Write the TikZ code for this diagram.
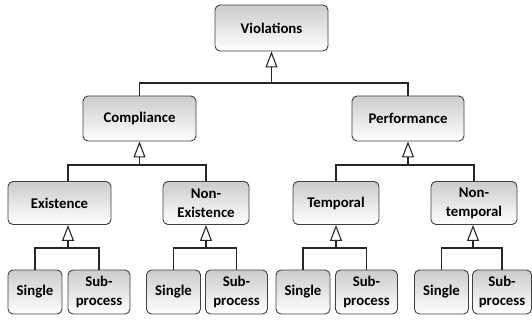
\documentclass[tikz,border=0pt]{standalone}
\usepackage{fontspec}
\setmainfont{Carlito}
\usetikzlibrary{arrows.meta}

\begin{document}
\begin{tikzpicture}[x=1pt, y=-1pt,
  box/.style={draw=black!75, line width=0.9pt, rounded corners=5pt,
    top color=black!20, bottom color=white, align=center, inner sep=0pt,
    font=\fontsize{14.8}{19}\selectfont\bfseries},
  single/.style={box, minimum width=54pt, minimum height=44pt},
  subproc/.style={box, minimum width=62pt, minimum height=44pt},
  link/.style={draw=black!85, line width=1.1pt},
  isa/.style={link, -{Triangle[open, length=16pt, width=12pt]}}]

\useasboundingbox (0,0) rectangle (532,320);

\def\ya{28}; % root
\def\yb{118.5}; % compliance / performance
\def\yc{203}; % kinds
\def\yd{292}; % leaves

\def\hab{83}; % bars
\def\hbc{165};
\def\hcd{248};

\node[box, minimum width=113pt, minimum height=46pt] (viol) at (271.5, \ya) {Violations};

\node[box, minimum width=113pt, minimum height=45pt] (comp) at (139.5, \yb) {Compliance};
\node[box, minimum width=112pt, minimum height=45pt] (perf) at (408, \yb) {Performance};

\node[box, minimum width=103pt, minimum height=43pt] (exist) at (59.5, \yc) {Existence};
\node[box, minimum width=86pt, minimum height=43pt] (nexist) at (206, \yc) {Non-\\Existence};
\node[box, minimum width=86pt, minimum height=43pt] (temp) at (336, \yc) {Temporal};
\node[box, minimum width=86pt, minimum height=43pt] (ntemp) at (474, \yc) {Non-\\temporal};

\node[single] (es) at (35, \yd) {Single};
\node[subproc] (ep) at (99, \yd) {Sub-\\process};
\node[single] (ns) at (173.5, \yd) {Single};
\node[subproc] (np) at (236.5, \yd) {Sub-\\process};
\node[single] (ts) at (303, \yd) {Single};
\node[subproc] (tp) at (366.5, \yd) {Sub-\\process};
\node[single] (qs) at (441.5, \yd) {Single};
\node[subproc, minimum width=59pt] (qp) at (502, \yd) {Sub-\\process};

\coordinate (jv) at (viol.south |- 0,\hab);
\coordinate (jc) at (comp.south |- 0,\hbc);
\coordinate (jp) at (perf.south |- 0,\hbc);
\coordinate (je) at (68, \hcd);
\coordinate (jn) at (206, \hcd);
\coordinate (jt) at (336, \hcd);
\coordinate (jq) at (473, \hcd);

\draw[link] (comp.north) |- (jv) -| (perf.north);
\draw[isa] (jv) -- (viol.south);

\draw[link] (je |- exist.north) |- (jc) -| (nexist.north);
\draw[isa] (jc) -- (comp.south);
\draw[link] (temp.north) |- (jp) -| (ntemp.north);
\draw[isa] (jp) -- (perf.south);

\draw[link] (es.north) |- (je) -| (ep.north);
\draw[isa] (je) -- (je |- exist.south);
\draw[link] (ns.north) |- (jn) -| (np.north);
\draw[isa] (jn) -- (nexist.south);
\draw[link] (ts.north) |- (jt) -| (tp.north);
\draw[isa] (jt) -- (temp.south);
\draw[link] (qs.north) |- (jq) -| (qp.north);
\draw[isa] (jq) -- (jq |- ntemp.south);

\end{tikzpicture}
\end{document}
